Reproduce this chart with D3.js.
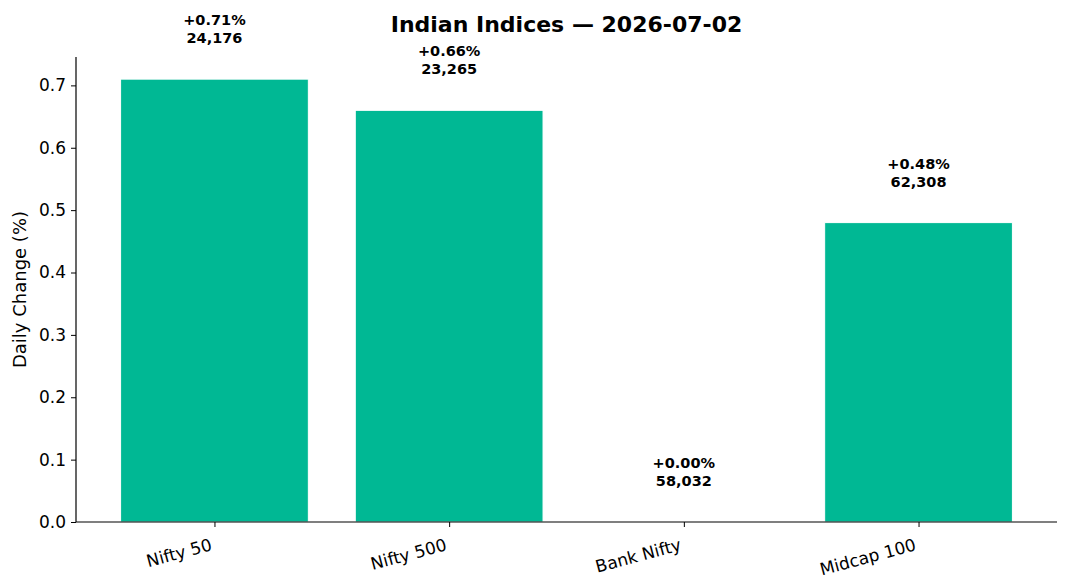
<!DOCTYPE html>
<html>
<head>
<meta charset="utf-8">
<script src="https://cdn.jsdelivr.net/npm/d3@7"></script>
<style>
  body { margin: 0; background: #fff; }
  text { font-family: "DejaVu Sans", sans-serif; }
</style>
</head>
<body>
<div id="chart"></div>
<script>
const indices = ["Nifty 50", "Nifty 500", "Bank Nifty", "Midcap 100"]
const changes = [0.71, 0.66, 0.00, 0.48]
const levels = [24176, 23265, 58032, 62308]
const yTicks = [0.0, 0.1, 0.2, 0.3, 0.4, 0.5, 0.6, 0.7]

const W = 1068, H = 588
const margin = { top: 57, right: 11, bottom: 66, left: 76 }
const width = W - margin.left - margin.right
const height = H - margin.top - margin.bottom

const svg = d3.select("#chart").append("svg")
    .attr("width", W)
    .attr("height", H)

svg.append("text")
    .attr("x", margin.left + width / 2)
    .attr("y", 32)
    .attr("text-anchor", "middle")
    .style("font-size", "22px")
    .style("font-weight", "bold")
    .text("Indian Indices — 2026-07-02")

const g = svg.append("g")
    .attr("transform", "translate(" + margin.left + "," + margin.top + ")")

// matplotlib-style x margins: bars span [-0.4, 3.4], padded 5%
const x = d3.scaleLinear().domain([-0.59, 3.59]).range([0, width])
const y = d3.scaleLinear().domain([0, 0.71 * 1.05]).range([height, 0])
const bw = x(0.4) - x(-0.4)

g.selectAll(".bar")
    .data(changes)
    .enter().append("rect")
    .attr("class", "bar")
    .attr("x", (d, i) => x(i) - bw / 2)
    .attr("y", d => y(d))
    .attr("width", bw)
    .attr("height", d => height - y(d))
    .attr("fill", "#00b894")
    .attr("stroke", "#fff")
    .attr("stroke-width", 1)

const lab = g.selectAll(".lab")
    .data(changes)
    .enter().append("text")
    .attr("class", "lab")
    .attr("text-anchor", "middle")
    .style("font-size", "14.5px")
    .style("font-weight", "bold")
lab.append("tspan")
    .attr("x", (d, i) => x(i))
    .attr("y", d => y(d) - 54)
    .text(d => (d >= 0 ? "+" : "") + d.toFixed(2) + "%")
lab.append("tspan")
    .attr("x", (d, i) => x(i))
    .attr("y", d => y(d) - 36)
    .text((d, i) => d3.format(",")(levels[i]))

// y axis
const yAxis = g.append("g")
    .call(d3.axisLeft(y).tickValues(yTicks).tickFormat(d3.format(".1f")).tickSizeOuter(0).tickSize(5))
yAxis.select(".domain").attr("d", "M0," + height + "V0").attr("stroke", "#000").attr("stroke-width", 1.2)
yAxis.selectAll("text").style("font-size", "17px").attr("fill", "#000").attr("x", -10)
yAxis.selectAll("line").attr("stroke", "#000")

// x axis
const xAxis = g.append("g")
    .attr("transform", "translate(0," + height + ")")
    .call(d3.axisBottom(x).tickValues(d3.range(indices.length)).tickFormat(i => indices[i]).tickSizeOuter(0).tickSize(5))
xAxis.select(".domain").attr("d", "M0,0H" + width).attr("stroke", "#000").attr("stroke-width", 1.2)
xAxis.selectAll("line").attr("stroke", "#000")
xAxis.selectAll("text")
    .style("font-size", "17px")
    .attr("fill", "#000")
    .attr("text-anchor", "end")
    .attr("dy", null)
    .attr("y", 0)
    .attr("transform", "translate(-2,28) rotate(-15)")

svg.append("text")
    .attr("transform", "translate(26," + (margin.top + height / 2) + ") rotate(-90)")
    .attr("text-anchor", "middle")
    .style("font-size", "18px")
    .text("Daily Change (%)")
</script>
</body>
</html>
